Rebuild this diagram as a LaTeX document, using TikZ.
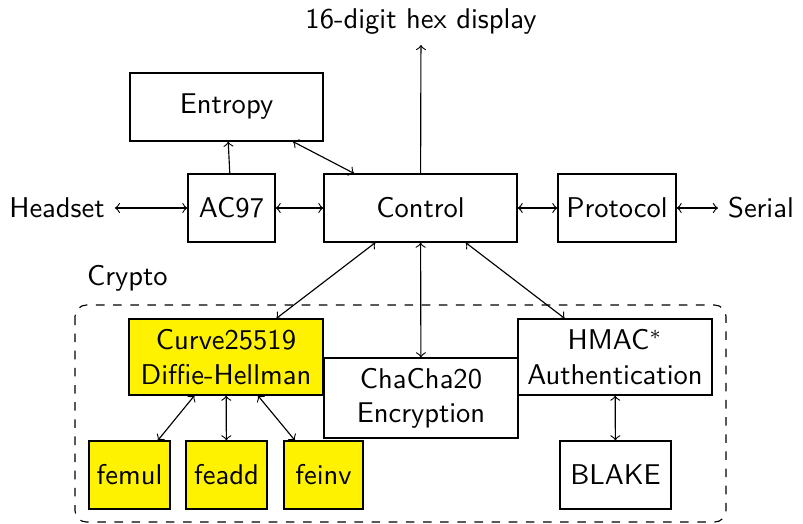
\documentclass[tikz,border=0pt]{standalone}
\usetikzlibrary{arrows}
\begin{document}
\begin{tikzpicture}[x=0.35pt,y=-0.35pt,
  font=\sffamily,
  blk/.style={draw,align=center,inner sep=0pt},
  yel/.style={blk,fill=yellow},
  conn/.style={<->}]
\useasboundingbox (0,0) rectangle (803,523);
\node[blk,minimum width=67.55pt,minimum height=23.8pt] (entropy) at (226.5,107) {Entropy};
\node[blk,minimum width=30.45pt,minimum height=23.8pt] (ac97) at (231.5,208) {AC97};
\node[blk,minimum width=67.55pt,minimum height=23.8pt] (control) at (420.5,208) {Control};
\node[blk,minimum width=41.3pt,minimum height=23.8pt] (protocol) at (617,208) {Protocol};
\node (headset) at (57,208) {Headset};
\node (serial) at (761,208) {Serial};
\node (hex) at (421,22) {16-digit hex display};
\node[anchor=west] (crypto) at (77,278) {Crypto};
\draw[dashed,rounded corners=4pt] (75,305) rectangle (726,522);
\node[yel,minimum width=67.9pt,minimum height=26.6pt] (curve) at (226,357) {Curve25519\\Diffie-Hellman};
\node[blk,minimum width=67.9pt,minimum height=28pt] (chacha) at (421,398) {ChaCha20\\Encryption};
\node[blk,minimum width=67.9pt,minimum height=26.6pt] (hmac) at (615,357) {HMAC$^*$\\Authentication};
\node[blk,minimum width=38.85pt,minimum height=23.8pt] (blake) at (615.5,475) {BLAKE};
\node[yel,minimum width=28.35pt,minimum height=23.8pt] (femul) at (129.5,475) {femul};
\node[yel,minimum width=28.35pt,minimum height=23.8pt] (feadd) at (226.5,475) {feadd};
\node[yel,minimum width=27.65pt,minimum height=23.8pt] (feinv) at (323.5,475) {feinv};
\draw[conn] (headset) -- (ac97);
\draw[conn] (ac97) -- (control);
\draw[conn] (control) -- (protocol);
\draw[conn] (protocol) -- (serial);
\draw[->] (control) -- (hex);
\draw[->] (ac97) -- (entropy);
\draw[conn] (entropy) -- (control);
\draw[conn] (control) -- (curve);
\draw[conn] (control) -- (chacha);
\draw[conn] (control) -- (hmac);
\draw[conn] (curve) -- (femul);
\draw[conn] (curve) -- (feadd);
\draw[conn] (curve) -- (feinv);
\draw[conn] (hmac) -- (blake);
\end{tikzpicture}
\end{document}
